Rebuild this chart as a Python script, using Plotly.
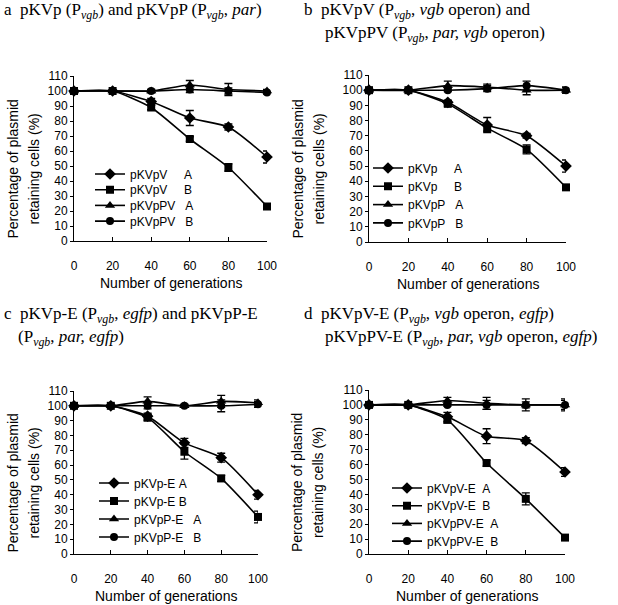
import plotly.graph_objects as go

W, H = 618, 605
gens = [0, 20, 40, 60, 80, 100]
NB = "\u00a0"

# Panel a
a_names = ["pKVpV" + NB * 5 + "A", "pKVpV" + NB * 5 + "B", "pKVpPV" + NB * 3 + "A", "pKVpPV" + NB * 3 + "B"]
a_vals = [[100, 100, 93, 82, 76, 56],
          [100, 100, 89, 68, 49, 23],
          [100, 100, 100, 104, 101, 100],
          [100, 100, 100, 101, 100, 99]]
a_err = [[0, 0, 2, 5, 2, 4],
         [0, 0, 1.5, 1.5, 2.5, 1],
         [0, 0, 1, 3, 4, 1],
         [0, 0, 1, 2, 2, 1]]
# Panel b
b_names = ["pKVp" + NB * 5 + "A", "pKVp" + NB * 5 + "B", "pKVpP" + NB * 3 + "A", "pKVpP" + NB * 3 + "B"]
b_vals = [[100, 100, 92, 77, 70, 50],
          [100, 100, 91, 75, 61, 36],
          [100, 100, 103, 102, 100, 100],
          [100, 100, 100, 101, 103, 100]]
b_err = [[0, 0, 1.5, 5, 1.5, 4],
         [0, 0, 1.5, 2, 3, 1],
         [0, 0, 3, 2, 3, 2],
         [0, 0, 1, 2, 3, 2]]
# Panel c
c_names = ["pKVp-E" + NB + "A", "pKVp-E" + NB + "B", "pKVpP-E" + NB * 3 + "A", "pKVpP-E" + NB * 3 + "B"]
c_vals = [[100, 100, 93, 75, 65, 40],
          [100, 100, 92, 69, 51, 25],
          [100, 100, 103, 100, 103, 102],
          [100, 100, 100, 100, 100, 101]]
c_err = [[0, 0, 2, 3, 3, 3],
         [0, 0, 2, 5, 2, 4],
         [0, 0, 3, 1, 4, 2],
         [0, 0, 2, 1, 4, 2]]
# Panel d
d_names = ["pKVpV-E" + NB * 2 + "A", "pKVpV-E" + NB * 2 + "B", "pKVpPV-E" + NB * 2 + "A", "pKVpPV-E" + NB * 2 + "B"]
d_vals = [[100, 100, 92, 79, 76, 55],
          [100, 100, 90, 61, 37, 11],
          [100, 100, 103, 101, 100, 100],
          [100, 100, 100, 100, 100, 100]]
d_err = [[0, 0, 3, 5, 2, 3],
         [0, 0, 2, 2, 4, 1.5],
         [0, 0, 2, 4, 4, 4],
         [0, 0, 1, 3, 2, 3]]

y_ticks = [0, 10, 20, 30, 40, 50, 60, 70, 80, 90, 100, 110]

symbols = ["diamond", "square", "triangle-up", "circle"]
msizes = [9, 8, 9, 8]

def px(x):
    return x / W

def py(y):
    return 1 - y / H

# pixel boxes: (x0, x1, ybottom, ytop)
boxes = [(74, 267, 241, 76), (369, 566, 242, 75), (74, 258, 554, 391), (369, 565, 554, 390)]
panels = [(a_names, a_vals, a_err), (b_names, b_vals, b_err),
          (c_names, c_vals, c_err), (d_names, d_vals, d_err)]
# legend: (line start x, first row center y, row spacing)
leg_pos = [(95, 174, 15.7), (373, 168, 18.3), (99, 483, 18), (392, 488, 17.7)]
# y-title line centers (x of line 1, x of line 2)
ytitle_x = [(12, 33), (297, 318), (12, 33), (297, 318)]

fig = go.Figure()
sans = "Liberation Sans, Arial, sans-serif"
serif = "Liberation Serif, Times New Roman, serif"

leg_n = 0
for i, (names, vals, errs) in enumerate(panels):
    sfx = "" if i == 0 else str(i + 1)
    lx, ly, ls = leg_pos[i]
    for j in range(4):
        leg_n += 1
        leg = "legend" if leg_n == 1 else "legend" + str(leg_n)
        fig.add_trace(go.Scatter(
            x=gens, y=vals[j], name=names[j],
            mode="lines+markers",
            line=dict(color="black", width=1.6, shape="spline", smoothing=0.6),
            marker=dict(symbol=symbols[j], size=msizes[j], color="black"),
            error_y=dict(type="data", array=errs[j], visible=True,
                         color="black", thickness=1.3, width=4),
            xaxis="x" + sfx, yaxis="y" + sfx, legend=leg,
            cliponaxis=False,
        ))
        fig.layout[leg] = dict(
            x=px(lx - 5), y=py(ly + j * ls), xanchor="left", yanchor="middle",
            bgcolor="rgba(0,0,0,0)", borderwidth=0,
            font=dict(family=sans, size=12, color="black"),
            itemwidth=30)
    x0, x1, yb, yt = boxes[i]
    fig.layout["xaxis" + sfx] = dict(
        domain=[px(x0), px(x1)], range=[0, 100], anchor="y" + sfx,
        tickvals=gens, ticks="inside", ticklen=4, tickcolor="black",
        showline=True, linecolor="black", linewidth=1, showgrid=False,
        zeroline=False, ticklabelstandoff=14, automargin=False,
        tickfont=dict(family=sans, size=12, color="black"))
    fig.layout["yaxis" + sfx] = dict(
        domain=[py(yb), py(yt)], range=[0, 110], anchor="x" + sfx,
        tickvals=y_ticks, ticks="outside", ticklen=3, tickcolor="black",
        showline=True, linecolor="black", linewidth=1, showgrid=False,
        zeroline=False, automargin=False,
        tickfont=dict(family=sans, size=12, color="black"))
    # y axis titles (two lines)
    yc = (yb + yt) / 2 + 11
    t1x, t2x = ytitle_x[i]
    fig.add_annotation(x=px(t1x), y=py(yc), xref="paper", yref="paper",
                       xanchor="center", yanchor="middle",
                       text="Percentage of plasmid", textangle=-90, showarrow=False,
                       font=dict(family=sans, size=14, color="black"))
    fig.add_annotation(x=px(t2x), y=py(yc), xref="paper", yref="paper",
                       xanchor="center", yanchor="middle",
                       text="retaining cells (%)", textangle=-90, showarrow=False,
                       font=dict(family=sans, size=14, color="black"))
    fig.add_annotation(x=px((x0 + x1) / 2), y=py(yb + 42), xref="paper", yref="paper",
                       xanchor="center", yanchor="middle",
                       text="Number of generations", showarrow=False,
                       font=dict(family=sans, size=14, color="black"))

vgb = "P<sub><i>vgb</i></sub>"
titles = [
    (2, 11, "a  pKVp (" + vgb + ") and pKVpP (" + vgb + ", <i>par</i>)"),
    (302, 11, "b  pKVpV (" + vgb + ", <i>vgb</i> operon) and"),
    (323, 34, "pKVpPV (" + vgb + ", <i>par, vgb</i> operon)"),
    (2, 315, "c  pKVp-E (" + vgb + ", <i>egfp</i>) and pKVpP-E"),
    (16, 338, "(" + vgb + ", <i>par, egfp</i>)"),
    (302, 315, "d  pKVpV-E (" + vgb + ", <i>vgb</i> operon, <i>egfp</i>)"),
    (323, 338, "pKVpPV-E (" + vgb + ", <i>par, vgb</i> operon, <i>egfp</i>)"),
]
for tx, ty, tt in titles:
    fig.add_annotation(x=px(tx), y=py(ty), xref="paper", yref="paper", text=tt.replace("  ", NB * 2),
                       xanchor="left", yanchor="middle", showarrow=False,
                       font=dict(family=serif, size=17, color="black"))

fig.update_layout(width=W, height=H, margin=dict(l=0, r=0, t=0, b=0),
                  paper_bgcolor="white", plot_bgcolor="white", showlegend=True)
fig.write_html("out.html", config={"displayModeBar": False},
               post_script="document.body.style.margin='0';")
